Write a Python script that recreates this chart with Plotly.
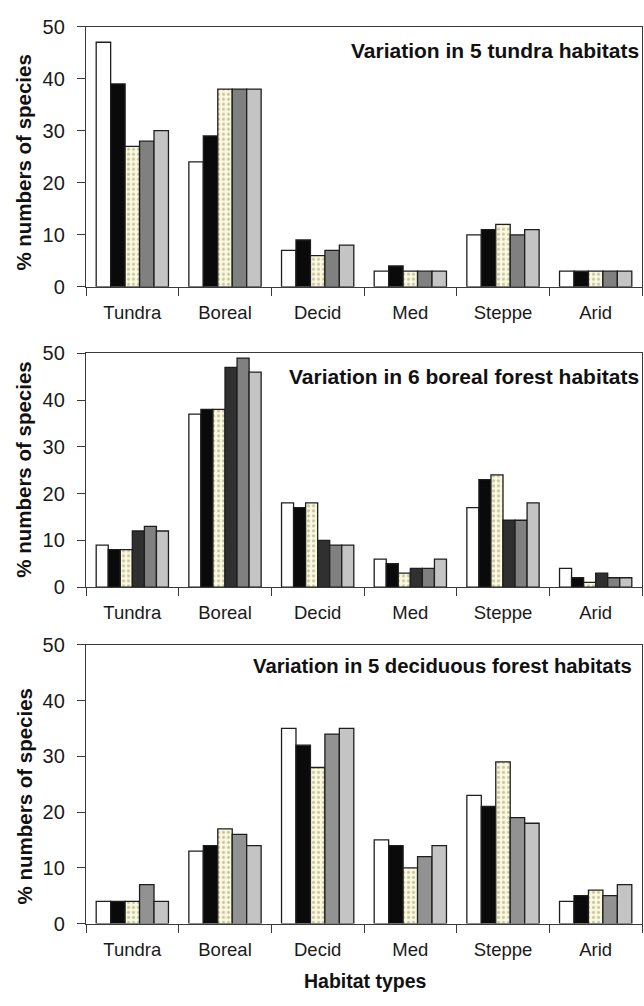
import plotly.graph_objects as go

# ---------------- data ----------------
categories = ["Tundra", "Boreal", "Decid", "Med", "Steppe", "Arid"]
y_tick_vals = [0, 10, 20, 30, 40, 50]

# Panel 1: variation in 5 tundra habitats
tundra_h1 = [47, 24, 7, 3, 10, 3]
tundra_h2 = [39, 29, 9, 4, 11, 3]
tundra_h3 = [27, 38, 6, 3, 12, 3]
tundra_h4 = [28, 38, 7, 3, 10, 3]
tundra_h5 = [30, 38, 8, 3, 11, 3]

# Panel 2: variation in 6 boreal forest habitats
boreal_h1 = [9, 37, 18, 6, 17, 4]
boreal_h2 = [8, 38, 17, 5, 23, 2]
boreal_h3 = [8, 38, 18, 3, 24, 1]
boreal_h4 = [12, 47, 10, 4, 14.3, 3]
boreal_h5 = [13, 49, 9, 4, 14.3, 2]
boreal_h6 = [12, 46, 9, 6, 18, 2]

# Panel 3: variation in 5 deciduous forest habitats
decid_h1 = [4, 13, 35, 15, 23, 4]
decid_h2 = [4, 14, 32, 14, 21, 5]
decid_h3 = [4, 17, 28, 10, 29, 6]
decid_h4 = [7, 16, 34, 12, 19, 5]
decid_h5 = [4, 14, 35, 14, 18, 7]

panel_titles = ["Variation in 5 tundra habitats",
                "Variation in 6 boreal forest habitats",
                "Variation in 5 deciduous forest habitats"]
y_axis_title = "% numbers of species"
x_axis_title = "Habitat types"

# ---------------- styling ----------------
W, H = 644, 1006
def fx(x):
    return x / W
def fy(y):
    return 1 - y / H

STYLE = {
    "white": dict(color="#ffffff"),
    "black": dict(color="#0a0a0a"),
    "dot": dict(color="#fbf9dc",
                pattern=dict(shape=".", fgcolor="#8f8f74", bgcolor="#fbf9dc",
                             size=5, solidity=0.3)),
    "dark": dict(color="#303030"),
    "gray": dict(color="#808080"),
    "gray2": dict(color="#929292"),
    "light": dict(color="#c4c4c4"),
}

panels = [
    dict(series=[tundra_h1, tundra_h2, tundra_h3, tundra_h4, tundra_h5],
         styles=["white", "black", "dot", "gray", "light"],
         top=16, bottom=282, title_xy=(641, 40), title_size=21, ytitle_y=155),
    dict(series=[boreal_h1, boreal_h2, boreal_h3, boreal_h4, boreal_h5, boreal_h6],
         styles=["white", "black", "dot", "dark", "gray", "light"],
         top=350, bottom=589, title_xy=(641, 374), title_size=21, ytitle_y=469),
    dict(series=[decid_h1, decid_h2, decid_h3, decid_h4, decid_h5],
         styles=["white", "black", "dot", "gray2", "light"],
         top=648, bottom=933, title_xy=(634, 670), title_size=20.3, ytitle_y=803),
]

fig = go.Figure()
annotations = []
line_col = "#3a3a3a"
txt_col = "#1a1a1a"

for i, p in enumerate(panels):
    n = i + 1
    xa = "x" if n == 1 else f"x{n}"
    ya = "y" if n == 1 else f"y{n}"
    for vals, st in zip(p["series"], p["styles"]):
        m = dict(STYLE[st])
        m["line"] = dict(color="#1e1e1e", width=1.3)
        fig.add_trace(go.Bar(x=categories, y=vals, marker=m, xaxis=xa, yaxis=ya,
                             showlegend=False, hoverinfo="x+y"))
    xkey = "xaxis" if n == 1 else f"xaxis{n}"
    ykey = "yaxis" if n == 1 else f"yaxis{n}"
    fig.update_layout(**{
        xkey: dict(domain=[fx(86), fx(642)], anchor=ya, type="category",
                   showline=True, linecolor=line_col, linewidth=1.3, mirror=True,
                   ticks="outside", tickson="boundaries", ticklen=8,
                   tickcolor=line_col, tickwidth=1.3,
                   tickfont=dict(family="Liberation Sans, Arial", size=18.5, color=txt_col),
                   ticklabelstandoff=9, showgrid=False, zeroline=False,
                   fixedrange=True),
        ykey: dict(domain=[fy(p["bottom"]), fy(p["top"])], anchor=xa,
                   range=[0, 50], tickvals=y_tick_vals,
                   showline=True, linecolor=line_col, linewidth=1.3, mirror=True,
                   ticks="outside", ticklen=8, tickcolor=line_col, tickwidth=1.3,
                   tickfont=dict(family="Liberation Sans, Arial", size=20, color=txt_col),
                   ticklabelstandoff=8, showgrid=False, zeroline=False,
                   fixedrange=True),
    })
    tx, ty = p["title_xy"]
    annotations.append(dict(text=panel_titles[i], x=fx(tx), y=fy(ty), xref="paper",
                            yref="paper", xanchor="right", yanchor="middle",
                            showarrow=False,
                            font=dict(family="Liberation Sans, Arial", size=p["title_size"],
                                      weight="bold", color="#111111")))
    annotations.append(dict(text=y_axis_title, x=fx(24), y=fy(p["ytitle_y"]),
                            xref="paper", yref="paper", xanchor="center",
                            yanchor="middle", textangle=-90, showarrow=False,
                            font=dict(family="Liberation Sans, Arial", size=20.5,
                                      weight="bold", color="#111111")))

annotations.append(dict(text=x_axis_title, x=fx(365), y=fy(992), xref="paper",
                        yref="paper", xanchor="center", yanchor="middle",
                        showarrow=False,
                        font=dict(family="Liberation Sans, Arial", size=19.5,
                                  weight="bold", color="#111111")))

fig.update_layout(width=W, height=H, margin=dict(l=0, r=0, t=0, b=0),
                  paper_bgcolor="white", plot_bgcolor="white",
                  barmode="group", bargap=0.22, bargroupgap=0,
                  annotations=annotations, showlegend=False)

fig.write_html("out.html", config=dict(displayModeBar=False))
